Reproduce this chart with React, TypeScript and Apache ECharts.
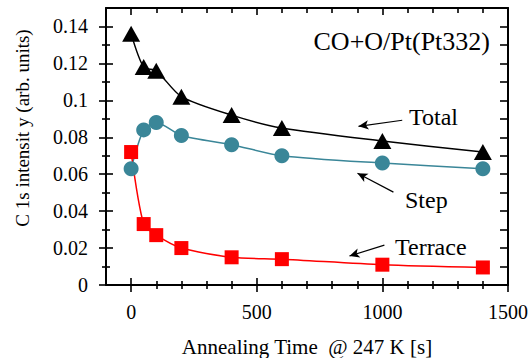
import React, { useEffect, useRef } from "react";
import * as echarts from "echarts";

const times = [0, 50, 100, 200, 400, 600, 1000, 1400];
const totalValues = [0.136, 0.118, 0.116, 0.102, 0.092, 0.085, 0.078, 0.072];
const stepValues = [0.063, 0.084, 0.088, 0.081, 0.076, 0.07, 0.066, 0.063];
const terraceValues = [0.072, 0.033, 0.027, 0.02, 0.015, 0.014, 0.011, 0.0095];

const xMajorTicks = [0, 500, 1000, 1500];
const xMinorTicks = [100, 200, 300, 400, 600, 700, 800, 900, 1100, 1200, 1300, 1400];
const xTickLabels = [0, 500, 1000, 1500];
const yMajorTicks = [0, 0.02, 0.04, 0.06, 0.08, 0.1, 0.12, 0.14];
const yMinorTicks = [0.01, 0.03, 0.05, 0.07, 0.09, 0.11, 0.13];
const yTickLabels = [0, 0.02, 0.04, 0.06, 0.08, 0.1, 0.12, 0.14];

// arrow annotations in data coordinates: [start, end]
const totalArrow = [[1079, 0.0892], [905, 0.0859]];
const stepArrow = [[1044, 0.0503], [901, 0.0605]];
const terraceArrow = [[1008, 0.0216], [869, 0.0157]];

const FONT = "Liberation Serif";

function xAx(position: string, ticks: number[], len: number, inside: boolean, showLine: boolean) {
  return {
    type: "value",
    position,
    min: -100,
    max: 1500,
    interval: 100,
    splitLine: { show: false },
    axisLine: { show: showLine, onZero: false, lineStyle: { color: "#000", width: 2 } },
    axisTick: { show: true, inside, length: len, customValues: ticks, lineStyle: { color: "#000", width: 1.6 } },
    axisLabel: { show: false },
  };
}

function yAx(position: string, ticks: number[], len: number, inside: boolean, showLine: boolean) {
  return {
    type: "value",
    position,
    min: 0,
    max: 0.15,
    interval: 0.02,
    splitLine: { show: false },
    axisLine: { show: showLine, onZero: false, lineStyle: { color: "#000", width: 2 } },
    axisTick: { show: true, inside, length: len, customValues: ticks, lineStyle: { color: "#000", width: 1.6 } },
    axisLabel: { show: false },
  };
}

function arrowLine(a: number[][]) {
  return {
    silent: true,
    symbol: ["none", "arrow"],
    symbolSize: [7, 10],
    label: { show: false },
    lineStyle: { color: "#000", width: 1.2, type: "solid" },
    emphasis: { disabled: true },
    data: [[{ coord: a[0] }, { coord: a[1] }]],
  };
}

function txt(id: string, x: number, y: number, text: string, size: number, align: string, vAlign: string, rotation = 0) {
  return {
    type: "text",
    id,
    x,
    y,
    rotation,
    silent: true,
    style: { text, fill: "#000", font: `${size}px ${FONT}`, align, verticalAlign: vAlign },
  };
}

export default function App() {
  const ref = useRef<HTMLDivElement>(null);
  useEffect(() => {
    if (!ref.current) return;
    const chart = echarts.init(ref.current, null, { renderer: "svg" });
    const teal = "#3a8698";
    const staticTexts = [
      txt("title", 490, 41, "CO+O/Pt(Pt332)", 26, "right", "middle"),
      txt("total", 409, 117, "Total", 24, "left", "middle"),
      txt("step", 405, 200, "Step", 24, "left", "middle"),
      txt("terrace", 395, 247, "Terrace", 24, "left", "middle"),
      txt("xname", 307, 347, "Annealing Time  @ 247 K [s]", 21, "center", "middle"),
      txt("yname", 22, 128, "C 1s intensit y (arb. units)", 19, "center", "middle", Math.PI / 2),
    ];
    chart.setOption({
      animation: false,
      backgroundColor: "#fff",
      grid: { left: 106, right: 24, top: 8, bottom: 73 },
      xAxis: [
        xAx("bottom", xMajorTicks, 7, false, true),
        xAx("bottom", xMinorTicks, 4, false, false),
        xAx("bottom", xMajorTicks, 7, true, false),
        xAx("bottom", xMinorTicks, 4, true, false),
        xAx("top", xMajorTicks, 7, true, true),
        xAx("top", xMinorTicks, 5, true, false),
      ],
      yAxis: [
        yAx("left", yMajorTicks, 7, false, true),
        yAx("left", yMinorTicks, 4, false, false),
        yAx("left", yMajorTicks, 7, true, false),
        yAx("left", yMinorTicks, 4, true, false),
        yAx("right", yMajorTicks, 8, true, true),
        yAx("right", yMinorTicks, 8, true, false),
      ],
      series: [
        {
          name: "Total",
          type: "line",
          smooth: 0.25,
          data: times.map((t, i) => [t, totalValues[i]]),
          symbol: "triangle",
          symbolSize: [18, 16],
          itemStyle: { color: "#000" },
          lineStyle: { color: "#000", width: 1.5 },
          markLine: arrowLine(totalArrow),
        },
        {
          name: "Step",
          type: "line",
          smooth: 0.25,
          data: times.map((t, i) => [t, stepValues[i]]),
          symbol: "circle",
          symbolSize: 15,
          itemStyle: { color: teal },
          lineStyle: { color: teal, width: 1.5 },
          markLine: arrowLine(stepArrow),
        },
        {
          name: "Terrace",
          type: "line",
          smooth: 0.25,
          data: times.map((t, i) => [t, terraceValues[i]]),
          symbol: "rect",
          symbolSize: 14,
          itemStyle: { color: "#ff0000" },
          lineStyle: { color: "#ff0000", width: 1.5 },
          markLine: arrowLine(terraceArrow),
        },
      ],
      graphic: staticTexts,
    });

    // tick labels placed through the axes' own scales
    const xBase = chart.convertToPixel({ yAxisIndex: 0 }, 0) as number;
    const yBase = chart.convertToPixel({ xAxisIndex: 0 }, -100) as number;
    const xLabelTexts = xTickLabels.map((v, i) =>
      txt("xl" + i, chart.convertToPixel({ xAxisIndex: 0 }, v) as number, xBase + 17, String(v), 20, "center", "top")
    );
    const yLabelTexts = yTickLabels.map((v, i) =>
      txt("yl" + i, yBase - 18, chart.convertToPixel({ yAxisIndex: 0 }, v) as number, String(v), 20, "right", "middle")
    );
    chart.setOption({ graphic: [...staticTexts, ...xLabelTexts, ...yLabelTexts] });

    return () => chart.dispose();
  }, []);
  return <div ref={ref} style={{ width: 532, height: 358, position: "absolute", left: 0, top: 0 }} />;
}
